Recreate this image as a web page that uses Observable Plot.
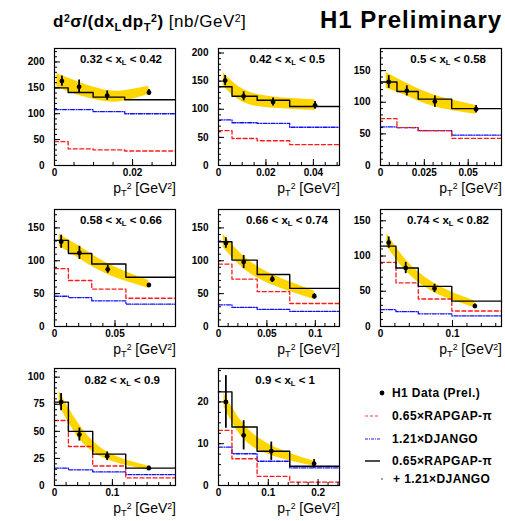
<!DOCTYPE html>
<html><head><meta charset="utf-8">
<script src="https://cdn.jsdelivr.net/npm/d3@7"></script>
<script src="https://cdn.jsdelivr.net/npm/@observablehq/plot@0.6"></script>
<style>
body{margin:0;background:#fff;font-family:"Liberation Sans",Arial,sans-serif;}
#wrap{position:relative;width:505px;height:521px;overflow:hidden;background:#fff;}
.abs{position:absolute;white-space:nowrap;line-height:1;color:#000;}
.sub{font-size:0.66em;position:relative;top:0.32em;}
.sup{font-size:0.62em;position:relative;top:-0.5em;}
svg{position:absolute;overflow:visible;}
</style></head><body><div id="wrap"></div>
<script>
// ---------------- data ----------------
const xlLow  = ["0.32","0.42","0.5","0.58","0.66","0.74","0.82","0.9"];
const xlHigh = ["0.42","0.5","0.58","0.66","0.74","0.82","0.9","1"];

const xMax = [0.031, 0.051, 0.069, 0.100, 0.125, 0.168, 0.209, 0.243];
const yMax = [226, 208, 185, 178, 178, 166, 108, 28];

const xTickLabels = [[0,0.02],[0,0.02,0.04],[0,0.025,0.05],[0,0.05],[0,0.05,0.1],[0,0.1],[0,0.1],[0,0.1,0.2]];
const yTickLabels = [[0,50,100,150,200],[0,50,100,150,200],[0,50,100,150],[0,50,100,150],[0,50,100,150],[0,50,100,150],[0,25,50,75,100],[0,10,20]];
const xMinorStep = [0.005,0.005,0.005,0.01,0.01,0.02,0.02,0.02];
const yMinorStep = [10,10,10,10,10,10,5,2.5];

// H1 data points
const dataX = [
  [0.0019,0.0063,0.0135,0.0242],
  [0.0028,0.0106,0.0230,0.0407],
  [0.0047,0.0150,0.0310,0.0545],
  [0.0055,0.0206,0.0440,0.0780],
  [0.0076,0.0260,0.0556,0.0990],
  [0.0114,0.0350,0.0750,0.1310],
  [0.0114,0.0430,0.0910,0.1630],
  [0.0148,0.0505,0.1060,0.1920]];
const dataY = [
  [163,152,135,141],
  [151,123,113,107],
  [132,118,101,89],
  [129,112,87,63],
  [127,98,72,46],
  [119,83,54,29],
  [77,47,27,16],
  [20,12,8.2,5.2]];
const dataErr = [
  [10,13,9,6],
  [9,8,7,7],
  [10,8,9,6],
  [10,10,6,3],
  [8,10,5,4],
  [8,8,6,3],
  [8,6,4,2],
  [6.3,3.5,2.2,1]];

// histogram bins (lower edges) and model predictions
const binEdges = [
  [0,0.0035,0.0099,0.018],
  [0,0.0057,0.0163,0.030],
  [0,0.0094,0.0215,0.0406],
  [0,0.0115,0.0308,0.059],
  [0,0.0139,0.040,0.0736],
  [0,0.0215,0.0525,0.099],
  [0,0.024,0.066,0.123],
  [0,0.027,0.0775,0.143]];
const sumHist = [
  [150,141,132,127],
  [140,123,116,105],
  [132,117,105,90],
  [131,111,95,75],
  [129,101,79,58],
  [114,83,57,36],
  [77,50,29,16],
  [22.4,14,8.2,4.6]];
const rapgapHist = [
  [46,32,30,28],
  [62,48,44,37],
  [74,60,55,43],
  [88,70,57,43],
  [95,72,53,35],
  [91,62,39,22],
  [60,36,18,7],
  [13.2,6.4,2.2,0.8]];
const djangoHist = [
  [108,108,104,100],
  [81,76,75,68],
  [61,60,55,48],
  [46,44,39,34],
  [33,29,26,23],
  [24,21,18,15],
  [16,14.5,12.5,10],
  [9.2,7.6,5.8,4.2]];

// uncertainty band of the fit
const bandX = [
  [0.0006,0.0063,0.0135,0.019,0.0242],
  [0.0020,0.0106,0.0230,0.0407],
  [0.0032,0.0150,0.0310,0.0545],
  [0.0040,0.0206,0.0440,0.0780],
  [0.0050,0.0260,0.0556,0.0990],
  [0.0090,0.0350,0.0750,0.1310],
  [0.0080,0.0430,0.0910,0.1630],
  [0.0110,0.0500,0.1060,0.1920]];
const bandLo = [
  [152,135,123,126,137],
  [141,112,102,98],
  [122,110,93,81],
  [122,103,79,58],
  [120,88,63,41],
  [114,79,48,27],
  [74,43,24,14],
  [18.8,11.2,7.2,4.6]];
const bandHi = [
  [177,161,145,146,153],
  [165,135,122,117],
  [147,130,111,95],
  [140,122,96,70],
  [140,107,79,54],
  [132,95,61,36],
  [87,56,31,18],
  [22,14.8,9.6,5.8]];

const legendLabels = ["H1 Data (Prel.)","0.65×RAPGAP-π","1.21×DJANGO","0.65×RAPGAP-π","+ 1.21×DJANGO"];

// ---------------- layout ----------------
const wrap = document.getElementById("wrap");
const colLeft = [54,218,380], rowTop = [48,209,368];
const PW = 121, PH = 117;
const mL = 36, mR = 4, mT = 4, mB = 18;
const titleRightPad = [13,14,15,13,11,12,15,24];
const titleDy = [12,12,12,12,12,12,13,13];
const YELLOW = "#ffd500";

function addDiv(html, css){
  const d = document.createElement("div");
  d.className = "abs";
  d.innerHTML = html;
  Object.assign(d.style, css);
  wrap.appendChild(d);
  return d;
}
const ptLabel = 'p<span class="sub">T</span><span class="sup">2</span>';

for (let i = 0; i < 8; i++) {
  const left = colLeft[i % 3], top = rowTop[Math.floor(i / 3)];
  const xm = xMax[i], ym = yMax[i];
  const hist = vals => binEdges[i].map((e, k) => ({x: e, y: vals[k]})).concat([{x: xm, y: vals[vals.length - 1]}]);
  const pts = dataX[i].map((x, k) => ({x, y: dataY[i][k], e: dataErr[i][k]}));
  const band = bandX[i].map((x, k) => ({x, lo: bandLo[i][k], hi: bandHi[i][k]}));
  const minorX = d3.range(0, xm + 1e-9, xMinorStep[i]);
  const minorY = d3.range(0, ym + 1e-9, yMinorStep[i]);

  const chart = Plot.plot({
    width: PW + mL + mR, height: PH + mT + mB,
    marginLeft: mL, marginRight: mR, marginTop: mT, marginBottom: mB,
    x: {domain: [0, xm]},
    y: {domain: [0, ym]},
    style: {fontFamily: "'Liberation Sans', Arial, sans-serif", fontSize: "10px", fontWeight: "bold", background: "transparent", color: "#000"},
    marks: [
      Plot.areaY(band, {x: "x", y1: "lo", y2: "hi", fill: YELLOW, curve: "natural"}),
      Plot.line(hist(djangoHist[i]), {x: "x", y: "y", curve: "step-after", stroke: "#1010ff", strokeWidth: 1.3, strokeDasharray: "4,1.5,1,1.5"}),
      Plot.line(hist(rapgapHist[i]), {x: "x", y: "y", curve: "step-after", stroke: "#ff1a1a", strokeWidth: 1.3, strokeDasharray: "4,2.5"}),
      Plot.line(hist(sumHist[i]), {x: "x", y: "y", curve: "step-after", stroke: "#000", strokeWidth: 1.4}),
      Plot.ruleX(pts, {x: "x", y1: d => d.y - d.e, y2: d => d.y + d.e, stroke: "#000", strokeWidth: 1.8}),
      Plot.dot(pts, {x: "x", y: "y", r: 2.4, fill: "#000", stroke: "none"}),
      Plot.ruleY(minorY, {y: d => d, insetRight: PW - 3, stroke: "#000", strokeWidth: 1}),
      Plot.ruleY(yTickLabels[i], {y: d => d, insetRight: PW - 6, stroke: "#000", strokeWidth: 1}),
      Plot.ruleX(minorX, {x: d => d, insetTop: PH - 3, stroke: "#000", strokeWidth: 1}),
      Plot.ruleX(xTickLabels[i], {x: d => d, insetTop: PH - 6, stroke: "#000", strokeWidth: 1}),
      Plot.axisX(xTickLabels[i], {tickSize: 0, tickPadding: 3, tickFormat: d => String(d), label: null, fontWeight: "bold"}),
      Plot.axisY(yTickLabels[i], {tickSize: 0, tickPadding: 10, tickFormat: d => String(d), label: null, fontWeight: "bold"}),
      Plot.frame({stroke: "#000", strokeWidth: 1.2})
    ]
  });
  chart.style.left = (left - mL) + "px";
  chart.style.top = (top - mT) + "px";
  wrap.appendChild(chart);

  // panel title: x_L range
  const right = left + PW;
  addDiv(`${xlLow[i]} &lt; x<span class="sub">L</span> &lt; ${xlHigh[i]}`,
    {right: (505 - right + titleRightPad[i]) + "px", top: (top + titleDy[i] - 6) + "px", fontSize: "11.5px", fontWeight: "bold"});
  // x-axis title
  addDiv(`${ptLabel} [GeV<span class="sup">2</span>]`,
    {right: (505 - right - 1) + "px", top: (top + PH + 16) + "px", fontSize: "14px"});
}

// main titles
addDiv(`<b>d<span class="sup">2</span>σ/(dx<span class="sub">L</span>d${ptLabel})</b> [nb/GeV<span class="sup">2</span>]`,
  {left: "53px", top: "13px", fontSize: "17px", letterSpacing: "0.5px"});
addDiv(`<b>H1 Preliminary</b>`, {left: "320px", top: "8px", fontSize: "24px", letterSpacing: "1px"});

// legend
const legY = [393, 416, 439, 461, 479];
const legSvg = d3.create("svg").attr("width", 40).attr("height", 110)
  .style("left", "355px").style("top", "380px");
legSvg.append("circle").attr("cx", 382 - 355).attr("cy", legY[0] - 380).attr("r", 2.4).attr("fill", "#000");
legSvg.append("line").attr("x1", 10).attr("x2", 25).attr("y1", legY[1] - 380).attr("y2", legY[1] - 380)
  .attr("stroke", "#ff4040").attr("stroke-width", 1.2).attr("stroke-dasharray", "3,2");
legSvg.append("line").attr("x1", 10).attr("x2", 25).attr("y1", legY[2] - 380).attr("y2", legY[2] - 380)
  .attr("stroke", "#2020ff").attr("stroke-width", 1.2).attr("stroke-dasharray", "3,1,1,1");
legSvg.append("line").attr("x1", 10).attr("x2", 25).attr("y1", legY[3] - 380).attr("y2", legY[3] - 380)
  .attr("stroke", "#000").attr("stroke-width", 1.4);
legSvg.append("circle").attr("cx", 382 - 355).attr("cy", legY[4] - 380).attr("r", 0.7).attr("fill", "#000");
wrap.appendChild(legSvg.node());
legendLabels.forEach((t, k) => {
  addDiv(t, {left: (k === 4 ? 393 : 392) + "px", top: (legY[k] - 6) + "px", fontSize: "12px", fontWeight: "bold", letterSpacing: "0.4px"});
});
</script>
</body></html>
